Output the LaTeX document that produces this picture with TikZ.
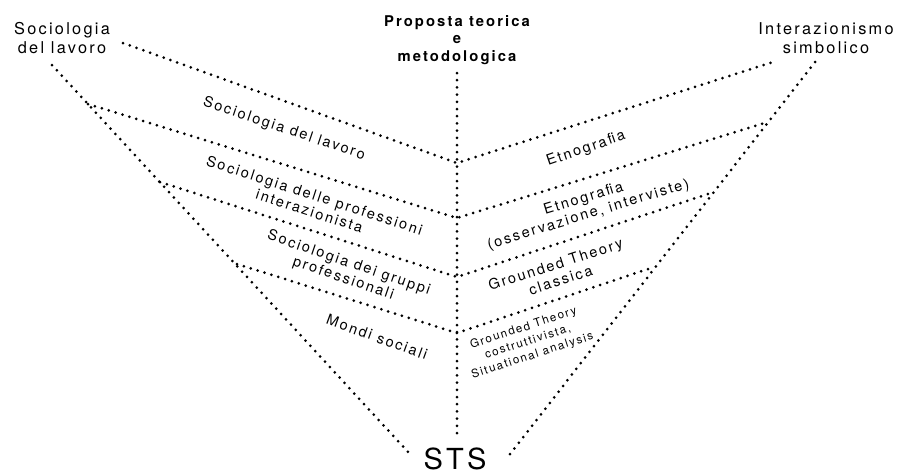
\documentclass[tikz,border=0pt]{standalone}
\usepackage{fontspec}
\setmainfont{TeX Gyre Heros}[LetterSpace=14]
\begin{document}
\begin{tikzpicture}[x=1pt,y=-1pt,
  dotline/.style={line width=3pt, line cap=round, dash pattern=on 0pt off 7.2pt},
  corner/.style={font=\fontsize{16.3}{19.5}\selectfont, align=center, inner sep=0pt},
  title/.style={font=\bfseries\fontsize{14.8}{17.5}\selectfont, align=center, inner sep=0pt},
  lab/.style={font=\fontsize{14.5}{16.5}\selectfont, align=center, inner sep=0pt},
  small/.style={font=\fontsize{11.5}{14.5}\selectfont, align=center, inner sep=0pt},
  big/.style={font=\fontsize{29}{30}\selectfont, inner sep=0pt}]
\useasboundingbox (0,0) rectangle (898,475);

% headings and bottom label
\node[corner] (sdl) at (62,38) {Sociologia\\del lavoro};
\node[corner] (isy) at (826,38) {Interazionismo\\simbolico};
\node[title]  (ptm) at (457,40) {Proposta teorica\\e\\metodologica};
\node[big]    (sts) at (455,459) {STS};

% end points of the dotted lines
\coordinate (L0) at (52,65);   \coordinate (L4) at (409,453);
\coordinate (R0) at (815,62);  \coordinate (R4) at (507,458);
\coordinate (C0) at (457,73);  \coordinate (C4) at (457,438);
\coordinate (J1) at (457,163); \coordinate (J2) at (457,218);
\coordinate (J3) at (457,277); \coordinate (J4) at (457,333);
\coordinate (A1) at (123,43);  \coordinate (A2) at (88,104);
\coordinate (A3) at (160,182); \coordinate (A4) at (237,264);
\coordinate (B1) at (773,62);  \coordinate (B2) at (768,122);
\coordinate (B3) at (714,192); \coordinate (B4) at (654,267);

% the three main branches
\draw[dotline] (L0) -- (L4);
\draw[dotline] (R0) -- (R4);
\draw[dotline] (C0) -- (C4);

% the cross branches meeting the centre line
\draw[dotline] (A1) -- (J1) -- (B1);
\draw[dotline] (A2) -- (J2) -- (B2);
\draw[dotline] (A3) -- (J3) -- (B3);
\draw[dotline] (A4) -- (J4) -- (B4);

% labels on the left
\node[lab, rotate=-18.5] (l1) at (284,129) {Sociologia del lavoro};
\node[lab, rotate=-18] (l2) at (312,203) {Sociologia delle professioni\\interazionista};
\node[lab, rotate=-19] (l3) at (346,271) {Sociologia dei gruppi\\professionali};
\node[lab, rotate=-20] (l4) at (377,337) {Mondi sociali};

% labels on the right
\node[lab, rotate=19] (r1) at (586,149) {Etnografia};
\node[lab, rotate=17] (r2) at (586,207) {Etnografia\\(osservazione, interviste)};
\node[lab, rotate=18] (r3) at (558,272) {Grounded Theory\\classica};
\node[small, rotate=18] (r4) at (528,342) {Grounded Theory\\costruttivista,\\Situational analysis};
\end{tikzpicture}
\end{document}
